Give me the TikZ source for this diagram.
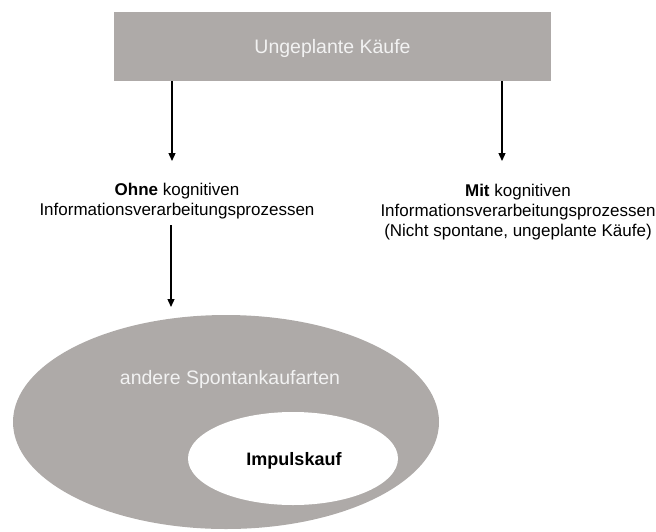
\documentclass[tikz,border=0pt]{standalone}
\usepackage{fontspec}
\setmainfont{Liberation Sans}
\usetikzlibrary{arrows.meta,shapes.geometric}
\definecolor{boxgray}{RGB}{174,170,168}
\definecolor{lighttext}{RGB}{242,242,242}
\begin{document}
\begin{tikzpicture}[x=1pt,y=-1pt,
  graybox/.style={fill=boxgray,draw=none,minimum width=437pt,minimum height=69pt,inner sep=0pt},
  lbl/.style={align=center,inner sep=0pt,font=\fontsize{17}{20}\selectfont,anchor=base},
  arr/.style={line width=1.3pt,-{Triangle[length=8pt,width=7pt]}},
  bigell/.style={ellipse,fill=boxgray,draw=none,minimum width=426pt,minimum height=214pt,inner sep=0pt},
  smallell/.style={ellipse,fill=white,draw=none,minimum width=210pt,minimum height=93pt,inner sep=0pt}]
\useasboundingbox (0,0) rectangle (656,531);
\node[graybox] (top) at (332.5,46.5) {};
\node[text=lighttext,font=\fontsize{19.5}{22}\selectfont] (toptxt) at (332.5,48) {Ungeplante Käufe};
\node[lbl] (ohne) at (177,215) {\textbf{Ohne} kognitiven\\Informationsverarbeitungsprozessen};
\node[lbl] (mit) at (518,236) {\textbf{Mit} kognitiven\\Informationsverarbeitungsprozessen\\(Nicht spontane, ungeplante Käufe)};
\node[bigell] (big) at (226,422) {};
\node[text=lighttext,font=\fontsize{19.5}{22}\selectfont] (andere) at (230,379) {andere Spontankaufarten};
\node[smallell] (small) at (293,458.5) {};
\node[font=\bfseries\fontsize{18}{21}\selectfont] (impuls) at (294,461) {Impulskauf};
\coordinate (t1) at (172,161);
\coordinate (t2) at (502,161);
\coordinate (s3) at (171,225);
\coordinate (t3) at (171,307);
\draw[arr] (top.south -| t1) -- (t1);
\draw[arr] (top.south -| t2) -- (t2);
\draw[arr] (s3) -- (t3);
\end{tikzpicture}
\end{document}
